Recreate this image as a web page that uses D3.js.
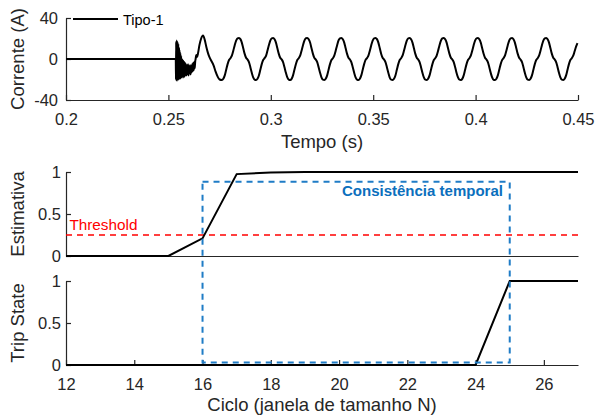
<!DOCTYPE html>
<html>
<head>
<meta charset="utf-8">
<script src="https://cdn.jsdelivr.net/npm/d3@7"></script>
<style>
  body { margin: 0; background: #fff; }
  svg { display: block; font-family: 'Liberation Sans', Arial, sans-serif; }
  .axis path, .axis line { stroke: #262626; stroke-width: 1.2; }
  .axis text { fill: #262626; font-size: 16.5px; font-family: 'Liberation Sans', Arial, sans-serif; }
  .label { fill: #262626; font-size: 18.5px; }
</style>
</head>
<body>
<svg id="chart" width="597" height="419"></svg>
<script>
// ---- data ----
const legendLabel = 'Tipo-1';
const tempoTicks = [0.2, 0.25, 0.3, 0.35, 0.4, 0.45];
const correnteTicks = [-40, 0, 40];

// corrente (A) antes da falta e transitório [tempo (s), corrente]
const preFalta = [[0.2, 0], [0.2536, 0]];
const transitorio = [
  [0.2537, -20], [0.2538, 17], [0.2539, -21], [0.2540, 18], [0.2541, -20], [0.2542, 16],
  [0.2543, -21], [0.2544, 17], [0.2545, -19], [0.2546, 14], [0.2547, -20], [0.2548, 15],
  [0.2549, -19], [0.2550, 12], [0.2551, -20], [0.2552, 11], [0.2553, -18], [0.2554, 9],
  [0.2555, -19], [0.2556, 7], [0.2557, -18], [0.2558, 6], [0.2559, -19], [0.2560, 4],
  [0.2561, -17], [0.2562, 3], [0.2563, -18], [0.2564, 1], [0.2565, -17], [0.2566, 0],
  [0.2567, -18], [0.2568, -2], [0.2569, -16], [0.2570, -1], [0.2571, -17], [0.2572, -3],
  [0.2573, -16], [0.2574, -2], [0.2575, -18], [0.2576, -4], [0.2577, -15], [0.2578, -3],
  [0.2579, -17], [0.2580, -5], [0.2581, -15], [0.2582, -4], [0.2583, -16], [0.2584, -6],
  [0.2585, -14], [0.2586, -5], [0.25885, -16], [0.2591, -6], [0.25935, -15], [0.2596, -5],
  [0.25985, -16], [0.2601, -7], [0.26035, -14], [0.2606, -6], [0.26085, -15], [0.2611, -7],
  [0.26135, -13], [0.2616, -5], [0.26185, -12], [0.2621, -4], [0.26235, -11], [0.2626, -3],
  [0.26285, -9], [0.2631, -2], [0.2633, 0], [0.2636, 4], [0.2640, 2], [0.2645, 6], [0.2652, 14],
  [0.2660, 20], [0.2669, 23], [0.2677, 19], [0.2685, 12], [0.2693, 6], [0.2700, 2],
  [0.2710, -2], [0.2720, -6], [0.2730, -12], [0.2740, -17], [0.2750, -20]
];

// regime permanente, amostras a cada 1/1440 s a partir do primeiro vale
const regimeInicio = 0.27613;
const regimePasso = 1 / 1440;
const regime = [
  -20.5, -19.3, -16, -10.5, -5, -1, 0.8, 3.2, 8, 13.5, 18, 20.2, 20.6, 19.4, 16, 10.5, 5, 1.2, -0.5, -3, -8, -13.5, -18, -20.2,
  -20.6, -19.3, -16.1, -10.6, -5, -1, 0.8, 3.1, 8, 13.4, 18, 20.2, 20.5, 19.3, 16, 10.4, 5, 1.2, -0.4, -3, -8.1, -13.5, -18, -20.1,
  -20.5, -19.4, -16, -10.5, -5.1, -1, 0.8, 3.2, 8.1, 13.5, 18, 20.3, 20.5, 19.3, 16.1, 10.5, 5, 1.1, -0.5, -3, -8, -13.4, -18, -20.2,
  -20.5, -19.3, -16, -10.4, -5, -1, 0.7, 3.2, 8, 13.5, 18.1, 20.2, 20.6, 19.3, 16, 10.5, 5, 1.2, -0.5, -3.1, -8, -13.5, -18, -20.2,
  -20.6, -19.3, -16, -10.5, -5, -0.9, 0.8, 3.2, 8, 13.5, 18, 20.2, 20.5, 19.4, 16, 10.5, 4.9, 1.2, -0.5, -3, -8, -13.5, -18.1, -20.2,
  -20.5, -19.3, -16.1, -10.5, -5, -1, 0.8, 3.2, 8, 13.4, 18, 20.2, 20.5, 19.3, 16, 10.5, 5, 1.2, -0.5, -3, -8, -13.5, -18, -20.2,
  -20.5, -19.3, -16, -10.5, -5, -1, 0.8, 3.3, 8, 13.5, 18, 20.1, 20.6, 19.3, 16, 10.4, 5, 1.2, -0.5, -3, -8, -13.6, -18, -20.2,
  -20.5, -19.4, -16, -10.5, -5, -1, 0.8, 3.2, 8, 13.5, 18, 20.2, 20.5, 19.3, 16, 10.5, 5.1, 1.2, -0.5, -3, -8, -13.5, -18, -20.3,
  -20.6, -19.3, -16, -10.5, -5, -1.1, 0.8, 3.2, 8.1, 13.5, 18, 20.2, 20.5, 19.3, 16, 10.5, 5, 1.2, -0.6, -3, -8, -13.5, -18, -20.2,
  -20.5, -19.3, -16, -10.5, -5, -1, 0.8, 3.2, 8, 13.5, 18, 20.2, 20.6, 19.3, 16, 10.5, 5, 1.2, -0.5, -3, -8, -13.5, -18, -20.2,
  -20.5, -19.3, -16, -10.5, -5, -1, 0.8, 3.2, 7.5, 12, 15.5
];

const ciclos = [12, 13, 14, 15, 16, 17, 18, 19, 20, 21, 22, 23, 24, 25, 26, 27];
const estimativa = [0, 0, 0, 0, 0.21, 0.975, 0.995, 1, 1, 1, 1, 1, 1, 1, 1, 1];
const tripState = [0, 0, 0, 0, 0, 0, 0, 0, 0, 0, 0, 0, 0, 1, 1, 1];
const cicloTicks = [12, 14, 16, 18, 20, 22, 24, 26];
const unitTicks = [0, 0.5, 1];
const threshold = 0.25;
const janelaInicio = 16;
const janelaFim = 25;

// ---- layout ----
const svg = d3.select('#chart');
const left = 66, right = 578;

let xTempo = d3.scaleLinear().domain([0.2, 0.45]).range([left, right]);
let yCorrente = d3.scaleLinear().domain([-40, 40]).range([100, 18]);
let xCiclo = d3.scaleLinear().domain([12, 27]).range([left, right]);
let yEst = d3.scaleLinear().domain([0, 1]).range([256, 172]);
let yTrip = d3.scaleLinear().domain([0, 1]).range([365, 281]);

const fmt = d => String(d);

function yAxis(scale, ticks, pad) {
  svg.append('g')
    .attr('class', 'axis')
    .attr('transform', `translate(${left}, 0)`)
    .call(d3.axisLeft(scale).tickValues(ticks).tickFormat(fmt)
      .tickSizeInner(-5).tickSizeOuter(0).tickPadding(pad));
}

function xAxis(scale, ticks, y) {
  svg.append('g')
    .attr('class', 'axis')
    .attr('transform', `translate(0, ${y})`)
    .call(d3.axisBottom(scale).tickValues(ticks).tickFormat(fmt)
      .tickSizeInner(-5).tickSizeOuter(0).tickPadding(13));
}

function yLabel(text, cy) {
  svg.append('text')
    .attr('class', 'label')
    .attr('text-anchor', 'middle')
    .attr('transform', `translate(24, ${cy}) rotate(-90)`)
    .text(text);
}

// ---- painel 1: corrente ----
xAxis(xTempo, tempoTicks, 100);
yAxis(yCorrente, correnteTicks, 8);

let corrente = preFalta.concat(transitorio,
  regime.map((v, i) => [regimeInicio + i * regimePasso, v]));

svg.append('path')
  .datum(corrente)
  .attr('fill', 'none')
  .attr('stroke', '#000')
  .attr('stroke-width', 2)
  .attr('stroke-linejoin', 'round')
  .attr('d', d3.line()
    .x(d => xTempo(d[0]))
    .y(d => yCorrente(d[1]))
    .curve(d3.curveMonotoneX));

// legenda
svg.append('line')
  .attr('x1', 73).attr('x2', 118)
  .attr('y1', 19).attr('y2', 19)
  .attr('stroke', '#000')
  .attr('stroke-width', 2);
svg.append('text')
  .attr('x', 123).attr('y', 25)
  .attr('fill', '#000')
  .style('font-size', '14.5px')
  .text(legendLabel);

yLabel('Corrente (A)', 59);
svg.append('text')
  .attr('class', 'label')
  .attr('text-anchor', 'middle')
  .attr('x', (left + right) / 2).attr('y', 148)
  .text('Tempo (s)');

// ---- painel 2: estimativa ----
xAxis(xCiclo, [], 256);
yAxis(yEst, unitTicks, 5);

svg.append('line')
  .attr('x1', xCiclo(12)).attr('x2', xCiclo(27))
  .attr('y1', yEst(threshold)).attr('y2', yEst(threshold))
  .attr('stroke', '#ff0000')
  .attr('stroke-width', 1.5)
  .attr('stroke-dasharray', '6,5');

svg.append('text')
  .attr('x', xCiclo(12.1)).attr('y', yEst(0.31))
  .attr('fill', '#ff0000')
  .style('font-size', '15.3px')
  .text('Threshold');

svg.append('path')
  .datum(ciclos.map((c, i) => [c, estimativa[i]]))
  .attr('fill', 'none')
  .attr('stroke', '#000')
  .attr('stroke-width', 2)
  .attr('d', d3.line().x(d => xCiclo(d[0])).y(d => yEst(d[1])));

yLabel('Estimativa', 214);

// ---- painel 3: trip state ----
xAxis(xCiclo, cicloTicks, 365);
yAxis(yTrip, unitTicks, 5);

svg.append('path')
  .datum(ciclos.map((c, i) => [c, tripState[i]]))
  .attr('fill', 'none')
  .attr('stroke', '#000')
  .attr('stroke-width', 2)
  .attr('d', d3.line().x(d => xCiclo(d[0])).y(d => yTrip(d[1])));

yLabel('Trip State', 323);
svg.append('text')
  .attr('class', 'label')
  .attr('text-anchor', 'middle')
  .attr('x', (left + right) / 2).attr('y', 411)
  .text('Ciclo (janela de tamanho N)');

// ---- janela de consistência temporal (atravessa os dois painéis) ----
svg.append('rect')
  .attr('x', xCiclo(janelaInicio))
  .attr('y', yEst(0.885))
  .attr('width', xCiclo(janelaFim) - xCiclo(janelaInicio))
  .attr('height', yTrip(0.03) - yEst(0.885))
  .attr('fill', 'none')
  .attr('stroke', '#1f7cc6')
  .attr('stroke-width', 2)
  .attr('stroke-dasharray', '6,5');

svg.append('text')
  .attr('x', xCiclo(24.8)).attr('y', yEst(0.715))
  .attr('text-anchor', 'end')
  .attr('fill', '#0b6fbd')
  .style('font-size', '15px')
  .style('font-weight', 'bold')
  .text('Consistência temporal');
</script>
</body>
</html>
